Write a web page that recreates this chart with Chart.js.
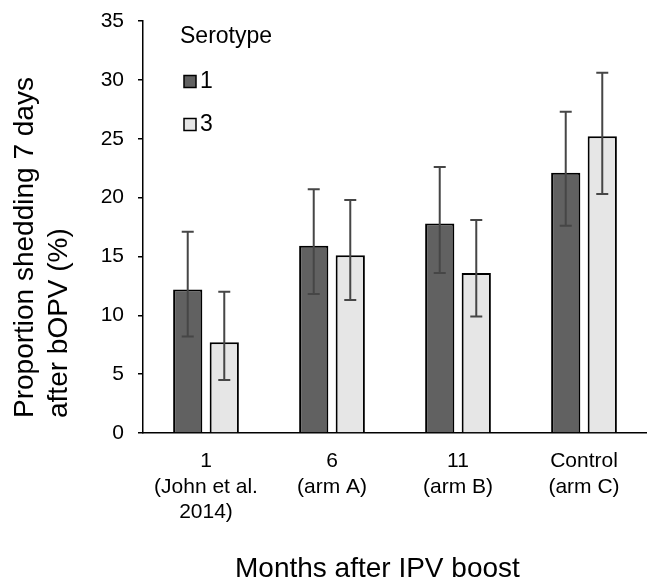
<!DOCTYPE html>
<html>
<head>
<meta charset="utf-8">
<script src="https://cdn.jsdelivr.net/npm/chart.js@4/dist/chart.umd.min.js"></script>
<style>
  html, body { margin: 0; padding: 0; background: #fff; }
  #wrap { width: 647px; height: 582px; position: relative; }
</style>
</head>
<body>
<div id="wrap"><canvas id="shedChart"></canvas></div>
<script>
// --- data ---
const categories = [
  ['1', '(John et al.', '2014)'],
  ['6', '(arm A)'],
  ['11', '(arm B)'],
  ['Control', '(arm C)']
];
const seriesNames = ['1', '3'];
const serotype1 = [12.2, 15.9, 17.8, 22.1];
const serotype1Low = [8.2, 11.8, 13.6, 17.6];
const serotype1High = [17.1, 20.7, 22.6, 27.3];
const serotype3 = [7.7, 15.1, 13.6, 25.2];
const serotype3Low = [4.5, 11.3, 9.9, 20.3];
const serotype3High = [12.0, 19.8, 18.1, 30.6];
const yTicks = [0, 5, 10, 15, 20, 25, 30, 35];

const yTitle = ['Proportion shedding 7 days', 'after bOPV (%)'];
const xTitle = 'Months after IPV boost';
const legendTitle = 'Serotype';

const FONT = "'Liberation Sans', Arial, Helvetica, sans-serif";

// error bars drawn through the chart scales
const errorBars = {
  id: 'errorBars',
  afterDatasetsDraw(chart) {
    const ctx = chart.ctx;
    const y = chart.scales.y;
    ctx.save();
    ctx.strokeStyle = '#464646';
    ctx.lineWidth = 2;
    chart.data.datasets.forEach((ds, i) => {
      const meta = chart.getDatasetMeta(i);
      meta.data.forEach((bar, j) => {
        const x = bar.x;
        const top = y.getPixelForValue(ds.errHigh[j]);
        const bot = y.getPixelForValue(ds.errLow[j]);
        ctx.beginPath();
        ctx.moveTo(x, top); ctx.lineTo(x, bot);
        ctx.moveTo(x - 6, top); ctx.lineTo(x + 6, top);
        ctx.moveTo(x - 6, bot); ctx.lineTo(x + 6, bot);
        ctx.stroke();
      });
    });
    ctx.restore();
  }
};

// legend box and axis titles
const annotations = {
  id: 'annotations',
  afterDraw(chart) {
    const ctx = chart.ctx;
    ctx.save();
    ctx.fillStyle = '#000';
    ctx.textBaseline = 'alphabetic';

    // legend
    ctx.font = '23px ' + FONT;
    ctx.textAlign = 'left';
    ctx.fillText(legendTitle, 180, 43);
    chart.data.datasets.forEach((ds, i) => {
      const cy = 81.5 + i * 43;
      ctx.fillStyle = ds.backgroundColor;
      ctx.fillRect(184, cy - 6, 12, 12);
      ctx.strokeStyle = '#000';
      ctx.lineWidth = 1.5;
      ctx.strokeRect(184, cy - 6, 12, 12);
      ctx.fillStyle = '#000';
      ctx.fillText(ds.label, 200, cy + 6.5);
    });

    // y title, two lines starting at the same bottom point
    ctx.font = '28px ' + FONT;
    yTitle.forEach((line, i) => {
      ctx.save();
      ctx.translate(33 + i * 34, 418);
      ctx.rotate(-Math.PI / 2);
      ctx.fillText(line, 0, 0);
      ctx.restore();
    });

    // x title
    ctx.fillText(xTitle, 235, 577);
    ctx.restore();
  }
};

new Chart(document.getElementById('shedChart'), {
  type: 'bar',
  data: {
    labels: categories,
    datasets: [
      {
        label: seriesNames[0],
        data: serotype1,
        errLow: serotype1Low,
        errHigh: serotype1High,
        backgroundColor: '#616161',
        borderColor: '#000',
        borderWidth: 2,
        categoryPercentage: 0.58,
        barPercentage: 0.8
      },
      {
        label: seriesNames[1],
        data: serotype3,
        errLow: serotype3Low,
        errHigh: serotype3High,
        backgroundColor: '#e6e6e6',
        borderColor: '#000',
        borderWidth: 2,
        categoryPercentage: 0.58,
        barPercentage: 0.8
      }
    ]
  },
  options: {
    responsive: true,
    maintainAspectRatio: false,
    animation: false,
    layout: { padding: { top: 21, right: 0, bottom: 0, left: 0 } },
    plugins: {
      legend: { display: false },
      tooltip: { enabled: false }
    },
    scales: {
      x: {
        afterFit(scale) { scale.height = 149; },
        grid: { display: false, drawTicks: false },
        border: { display: true, color: '#000', width: 1.5 },
        ticks: {
          color: '#000',
          padding: 16,
          maxRotation: 0,
          autoSkip: false,
          font: { family: FONT, size: 21, lineHeight: 1.2 }
        }
      },
      y: {
        min: 0,
        max: 35,
        afterFit(scale) { scale.width = 143; },
        afterBuildTicks(scale) { scale.ticks = yTicks.map(v => ({ value: v })); },
        grid: {
          drawOnChartArea: false,
          drawTicks: true,
          tickLength: 5,
          color: '#000',
          lineWidth: 1.5
        },
        border: { display: true, color: '#000', width: 1.5 },
        ticks: {
          color: '#000',
          padding: 14,
          font: { family: FONT, size: 21, lineHeight: 0.6 }
        }
      }
    }
  },
  plugins: [errorBars, annotations]
});
</script>
</body>
</html>
